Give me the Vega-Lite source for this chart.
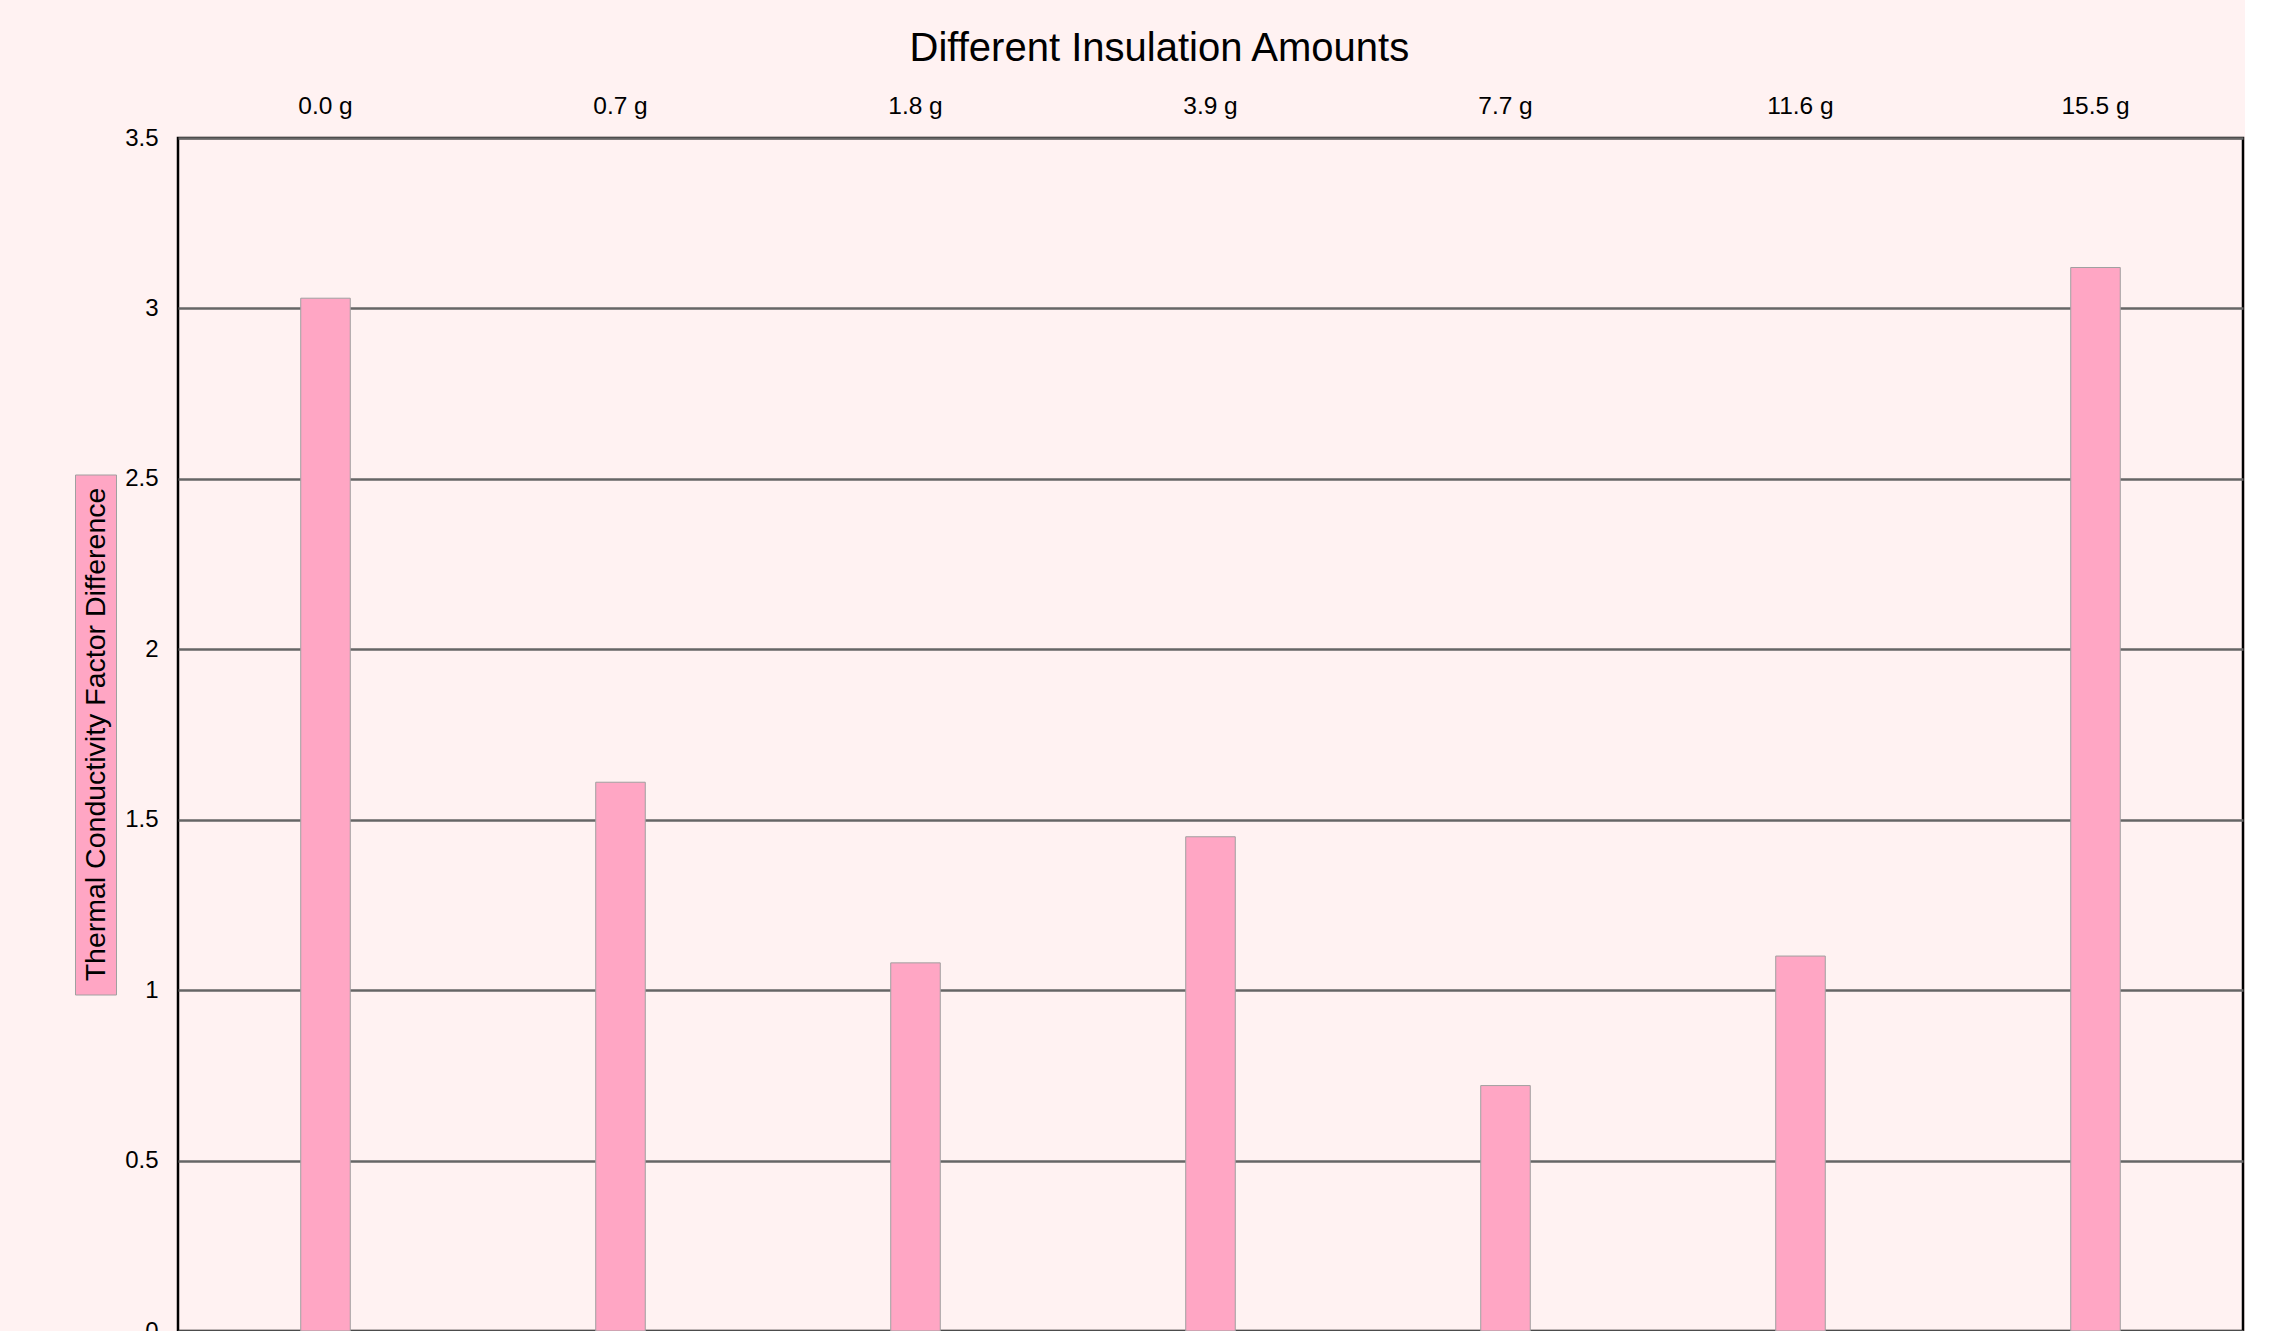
{
  "$schema": "https://vega.github.io/schema/vega-lite/v6.json",
  "padding": {"left": 74, "top": 28, "right": 0, "bottom": 0},
  "background": "#fff2f2",
  "title": {"text": "Different Insulation Amounts", "fontSize": 40, "font": "Liberation Sans", "fontWeight": "normal", "color": "#000000", "anchor": "middle", "offset": 23},
  "center": true,
  "bounds": "flush",
  "spacing": 62,
  "config": {"concat": {"spacing": 62}},
  "hconcat": [
    {
      "width": 41,
      "height": 520,
      "view": {"fill": "#ffa6c4", "stroke": "#a0a0a0", "strokeWidth": 1},
      "data": {"values": [{"label": "Thermal Conductivity Factor Difference"}]},
      "mark": {"type": "text", "angle": 270, "font": "Liberation Sans", "fontSize": 28.5, "color": "#000000", "baseline": "middle", "align": "center"},
      "encoding": {"text": {"field": "label"}}
    },
    {
      "width": 2065,
      "height": 1193,
      "view": {"stroke": "#000000", "strokeWidth": 2.5, "fill": null},
      "data": {"values": [
        {"amount": "0.0 g", "value": 3.03},
        {"amount": "0.7 g", "value": 1.61},
        {"amount": "1.8 g", "value": 1.08},
        {"amount": "3.9 g", "value": 1.45},
        {"amount": "7.7 g", "value": 0.72},
        {"amount": "11.6 g", "value": 1.10},
        {"amount": "15.5 g", "value": 3.12}
      ]},
      "mark": {"type": "bar", "fill": "#ffa6c4", "stroke": "#a0a0a0", "strokeWidth": 1},
      "encoding": {
        "x": {
          "field": "amount", "type": "nominal", "sort": null,
          "scale": {"paddingInner": 0.832, "paddingOuter": 0.416},
          "axis": {"orient": "top", "title": null, "labelAngle": 0, "ticks": false, "tickSize": 0, "domain": false, "grid": false, "labelFontSize": 24.5, "labelPadding": 20, "labelFont": "Liberation Sans", "labelColor": "#000000"}
        },
        "y": {
          "field": "value", "type": "quantitative",
          "scale": {"domain": [0, 3.5], "nice": false, "zero": true},
          "axis": {"title": null, "values": [0, 0.5, 1, 1.5, 2, 2.5, 3, 3.5], "format": "~g", "grid": true, "gridColor": "#666666", "gridWidth": 2.5, "gridOpacity": 1, "ticks": false, "tickSize": 0, "domain": false, "labelPadding": 20, "labelFontSize": 24, "labelFont": "Liberation Sans", "labelColor": "#000000", "zindex": 0}
        }
      }
    }
  ]
}
